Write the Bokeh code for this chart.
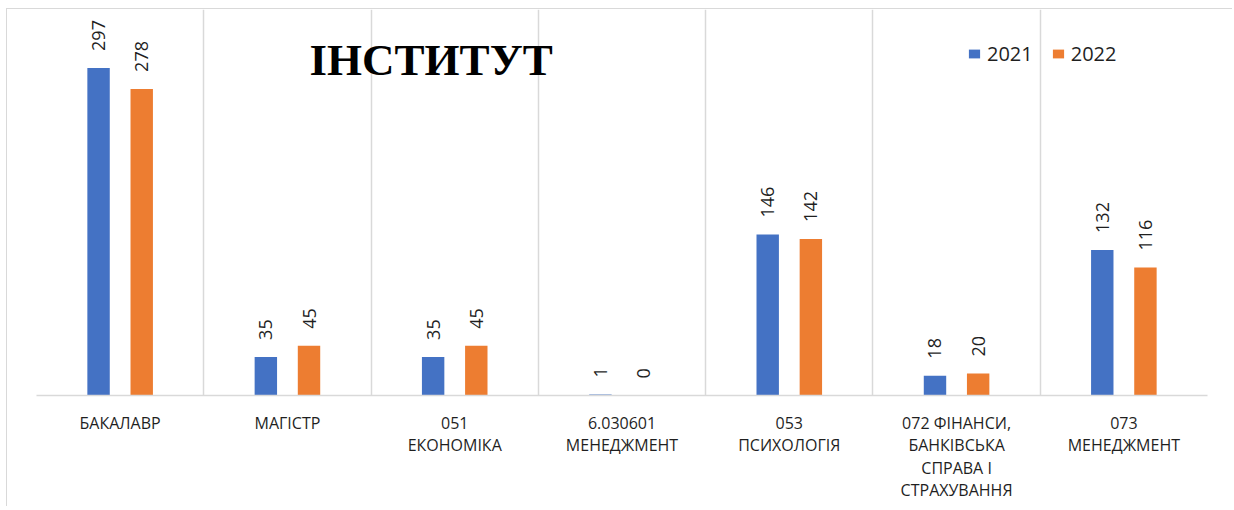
import math
from bokeh.plotting import figure
from bokeh.models import Range1d, FixedTicker, Label, Legend, LegendItem, ColumnDataSource
from bokeh.core.properties import value
from bokeh.embed import file_html
from bokeh.resources import INLINE

# ---- data ----
categories = [
    "БАКАЛАВР",
    "МАГІСТР",
    "051\nЕКОНОМІКА",
    "6.030601\nМЕНЕДЖМЕНТ",
    "053\nПСИХОЛОГІЯ",
    "072 ФІНАНСИ,\nБАНКІВСЬКА\nСПРАВА І\nСТРАХУВАННЯ",
    "073\nМЕНЕДЖМЕНТ",
]
years = ["2021", "2022"]
values_2021 = [297, 35, 35, 1, 146, 18, 132]
values_2022 = [278, 45, 45, 0, 142, 20, 116]
title_text = "ІНСТИТУТ"

# ---- style ----
BLUE = "#4472C4"
ORANGE = "#ED7D31"
GRID = "#D9D9D9"
TXT = "#1F1F1F"
OFF = 0.129
BW = 0.134

n = len(categories)
centers = [i + 0.5 for i in range(n)]

p = figure(
    width=1226, height=498,
    x_range=Range1d(0, n), y_range=Range1d(0, 350),
    output_backend="svg", toolbar_location=None,
    min_border_left=29, min_border_right=26, min_border_top=0, min_border_bottom=112,
    background_fill_color="white", border_fill_color="white",
    styles={"margin-left": "6px", "margin-top": "8px",
            "border-top": "1.5px solid #D9D9D9", "border-left": "1.5px solid #D9D9D9"},
)
p.outline_line_color = None

renderers = []
for vals, color, sign in [(values_2021, BLUE, -1), (values_2022, ORANGE, 1)]:
    src = ColumnDataSource(dict(
        x=[c + sign * OFF for c in centers],
        v=vals,
        lab=[str(v) for v in vals],
    ))
    r = p.vbar(x="x", top="v", width=BW, source=src, fill_color=color, line_color=None)
    renderers.append(r)
    p.text(x="x", y="v", text="lab", source=src, angle=math.pi / 2,
           text_align="left", text_baseline="middle", y_offset=-17,
           text_font=value("Open Sans"), text_font_size="18px", text_color=TXT)

# axes
p.yaxis.visible = False
p.ygrid.visible = False
ax = p.xaxis[0]
ax.ticker = FixedTicker(ticks=centers)
ax.major_label_overrides = {c: cat for c, cat in zip(centers, categories)}
ax.axis_line_color = GRID
ax.axis_line_width = 1.5
ax.major_tick_line_color = None
ax.minor_tick_line_color = None
ax.major_label_standoff = 10
ax.major_label_text_font = "Open Sans"
ax.major_label_text_font_size = "16px"
ax.major_label_text_color = TXT
ax.major_label_text_line_height = 1.03

p.xgrid.ticker = FixedTicker(ticks=list(range(n + 1)))
p.xgrid.grid_line_color = GRID
p.xgrid.grid_line_width = 1.5

# title inside plot
p.add_layout(Label(x=2.359, y=304, text=title_text, text_align="center",
                   text_baseline="alphabetic", text_font="Liberation Serif",
                   text_font_style="bold", text_font_size="45px", text_color="black"))

legend = Legend(
    items=[LegendItem(label=years[0], renderers=[renderers[0]]),
           LegendItem(label=years[1], renderers=[renderers[1]])],
    orientation="horizontal", location=(931, 328),
    glyph_width=14, glyph_height=11, label_standoff=6, spacing=18,
    padding=0, margin=0, border_line_color=None, background_fill_alpha=0,
    label_text_font="Open Sans", label_text_font_size="20px", label_text_color=TXT,
)
p.add_layout(legend)

open("out.html", "w").write(file_html(p, INLINE))
